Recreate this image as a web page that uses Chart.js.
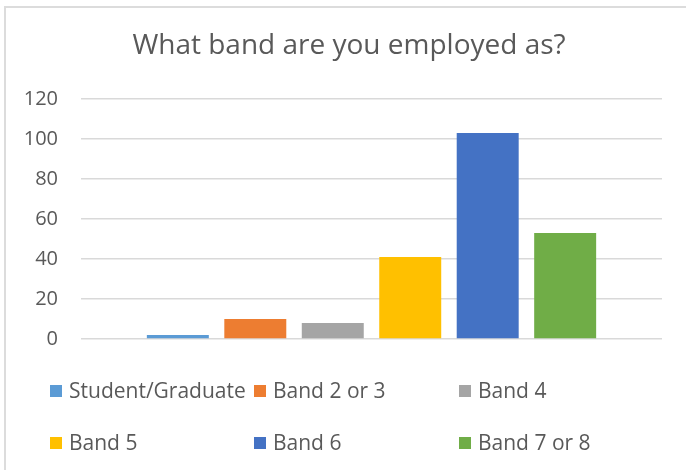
<!DOCTYPE html>
<html>
<head>
<meta charset="utf-8">
<script src="https://cdn.jsdelivr.net/npm/chart.js@4.4.0/dist/chart.umd.min.js"></script>
<style>
  html, body { margin: 0; padding: 0; background: #fff; }
  #wrap { position: relative; width: 686px; height: 470px; }
  #frame { position: absolute; left: 4px; top: 6px; right: 0; bottom: 0;
           border-top: 2px solid #dcdcdc; border-left: 2px solid #dcdcdc; }
  canvas { position: absolute; left: 0; top: 0; }
</style>
</head>
<body>
<div id="wrap">
  <div id="frame"></div>
  <canvas id="chart" width="686" height="470"></canvas>
</div>
<script>
const titleText = "What band are you employed as?"
const bands = ["Student/Graduate", "Band 2 or 3", "Band 4", "Band 5", "Band 6", "Band 7 or 8"]
const counts = [2, 10, 8, 41, 103, 53]
const colors = ["#5B9BD5", "#ED7D31", "#A5A5A5", "#FFC000", "#4472C4", "#70AD47"]
const yTicks = [0, 20, 40, 60, 80, 100, 120]

const textColor = "#595959"
const fontFamily = "'Open Sans', 'Liberation Sans', sans-serif"

// title and a 3-column grid legend drawn like the Excel original
const excelDecor = {
  id: "excelDecor",
  afterDraw(chart) {
    const ctx = chart.ctx
    ctx.save()
    ctx.fillStyle = textColor
    ctx.font = "28px " + fontFamily
    ctx.textAlign = "center"
    ctx.textBaseline = "middle"
    ctx.fillText(titleText, 349, 46)

    const cols = [50, 254, 459]
    const rows = [391, 443]
    ctx.font = "21px " + fontFamily
    ctx.textAlign = "left"
    chart.data.datasets.forEach((ds, i) => {
      const x = cols[i % 3]
      const y = rows[Math.floor(i / 3)]
      ctx.fillStyle = ds.backgroundColor
      ctx.fillRect(x, y - 6, 12, 12)
      ctx.fillStyle = textColor
      ctx.fillText(ds.label, x + 19, y + 1)
    })
    ctx.restore()
  }
}

new Chart(document.getElementById("chart"), {
  type: "bar",
  data: {
    labels: [""],
    datasets: bands.map((name, i) => ({
      label: name,
      data: [counts[i]],
      backgroundColor: colors[i],
      borderWidth: 0,
      categoryPercentage: 0.8,
      barPercentage: 0.8,
    })),
  },
  options: {
    responsive: false,
    animation: false,
    layout: { padding: { top: 99, right: 24, bottom: 131, left: 0 } },
    scales: {
      x: { display: false },
      y: {
        min: 0,
        max: 120,
        afterBuildTicks: (scale) => { scale.ticks = yTicks.map((v) => ({ value: v })) },
        afterFit: (scale) => { scale.width = 81 },
        ticks: {
          padding: 23,
          color: textColor,
          font: { family: fontFamily, size: 20 },
        },
        grid: { color: "#d9d9d9", lineWidth: 1.5, drawTicks: false },
        border: { display: false },
      },
    },
    plugins: {
      legend: { display: false },
      tooltip: { enabled: false },
      title: { display: false },
    },
  },
  plugins: [excelDecor],
});
</script>
</body>
</html>
